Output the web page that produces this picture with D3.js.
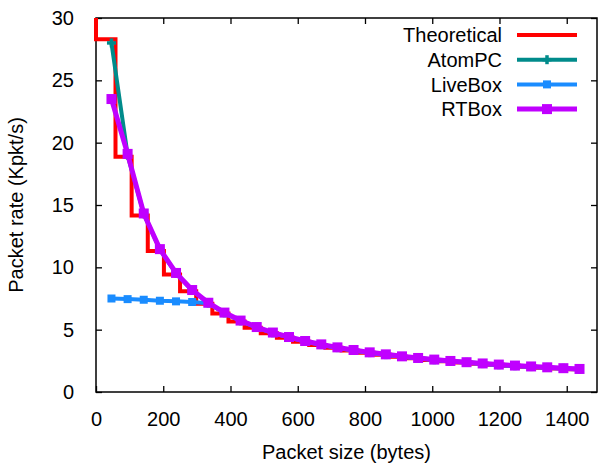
<!DOCTYPE html>
<html>
<head>
<meta charset="utf-8">
<script src="https://cdn.jsdelivr.net/npm/d3@7"></script>
<style>
  body { margin: 0; background: #fff; }
  text { font-family: "Liberation Sans", Arial, sans-serif; fill: #000; }
</style>
</head>
<body>
<svg id="chart" width="600" height="464"></svg>
<script>
// packet sizes measured (bytes)
var sizes = [46, 94, 142, 190, 238, 286, 334, 382, 430, 478, 526, 574, 622, 670, 718,
  766, 814, 862, 910, 958, 1006, 1054, 1102, 1150, 1198, 1246, 1294, 1342, 1390, 1438];

var atomPC = [28.0, 19.0, 14.3, 11.43, 9.52, 8.15, 7.13, 6.35, 5.71, 5.19, 4.75, 4.39, 4.07, 3.80, 3.56,
  3.35, 3.16, 3.00, 2.85, 2.72, 2.59, 2.48, 2.38, 2.28, 2.19, 2.11, 2.04, 1.97, 1.90, 1.84];
var liveBox = [7.5, 7.45, 7.4, 7.32, 7.27, 7.22, 7.12, 6.33, 5.70, 5.17, 4.73, 4.36, 4.04, 3.77, 3.53,
  3.32, 3.13, 2.97, 2.82, 2.68, 2.56, 2.45, 2.35, 2.25, 2.16, 2.08, 2.01, 1.94, 1.87, 1.81];
var rtBox = [23.5, 19.1, 14.32, 11.46, 9.55, 8.18, 7.16, 6.37, 5.73, 5.21, 4.77, 4.41, 4.09, 3.82, 3.58,
  3.37, 3.18, 3.02, 2.86, 2.73, 2.60, 2.49, 2.39, 2.29, 2.20, 2.12, 2.05, 1.98, 1.91, 1.85];

// theoretical step curve (step edges in bytes, rate in Kpkt/s)
var theoX = [0, 58, 106, 154, 202, 250, 298, 346, 394, 442, 490, 538, 586, 634, 682, 730,
  778, 826, 874, 922, 970, 1018, 1066, 1114, 1162, 1210, 1258, 1306, 1354, 1402, 1450];
var theoY = [30, 28.3, 18.87, 14.15, 11.32, 9.43, 8.09, 7.08, 6.29, 5.66, 5.15, 4.72, 4.35, 4.04, 3.77, 3.54,
  3.33, 3.14, 2.98, 2.83, 2.70, 2.57, 2.46, 2.36, 2.26, 2.18, 2.10, 2.02, 1.95, 1.89, 1.83];

var xTicks = [0, 200, 400, 600, 800, 1000, 1200, 1400];
var yTicks = [0, 5, 10, 15, 20, 25, 30];
var seriesNames = ["Theoretical", "AtomPC", "LiveBox", "RTBox"];
var seriesColors = ["#ff0000", "#008b8b", "#1a8cff", "#c000ff"];

var drawChart = function() {
  var svg = d3.select("#chart");
  var left = 96, right = 597, plotTop = 18, plotBottom = 392;

  var x = d3.scaleLinear().domain([0, 1490]).range([left, right]);
  var y = d3.scaleLinear().domain([0, 30]).range([plotBottom, plotTop]);
  var fmt = d3.format("d");

  // axes, gnuplot style: ticks inside, mirrored
  var tick = 6;
  svg.append("g").attr("transform", "translate(0," + plotBottom + ")")
    .call(d3.axisBottom(x).tickValues(xTicks).tickFormat(fmt).tickSizeInner(-tick).tickSizeOuter(0).tickPadding(20))
    .call(g => g.select(".domain").remove());
  svg.append("g").attr("transform", "translate(0," + plotTop + ")")
    .call(d3.axisTop(x).tickValues(xTicks).tickSizeInner(-tick).tickSizeOuter(0).tickFormat(""))
    .call(g => g.select(".domain").remove());
  svg.append("g").attr("transform", "translate(" + left + ",0)")
    .call(d3.axisLeft(y).tickValues(yTicks).tickFormat(fmt).tickSizeInner(-tick).tickSizeOuter(0).tickPadding(22))
    .call(g => g.select(".domain").remove());
  svg.append("g").attr("transform", "translate(" + right + ",0)")
    .call(d3.axisRight(y).tickValues(yTicks).tickSizeInner(-tick).tickSizeOuter(0).tickFormat(""))
    .call(g => g.select(".domain").remove());

  svg.selectAll(".tick line").attr("stroke", "#000").attr("stroke-width", 1.3);
  svg.selectAll(".tick text").attr("font-size", 20).attr("font-family", "Liberation Sans, Arial, sans-serif").attr("fill", "#000");

  svg.append("rect")
    .attr("x", left).attr("y", plotTop)
    .attr("width", right - left).attr("height", plotBottom - plotTop)
    .attr("fill", "none").attr("stroke", "#000").attr("stroke-width", 1.5);

  // axis titles
  svg.append("text").attr("x", (left + right) / 2).attr("y", 459)
    .attr("text-anchor", "middle").attr("font-size", 20).text("Packet size (bytes)");
  svg.append("text").attr("transform", "translate(23," + 205 + ") rotate(-90)")
    .attr("text-anchor", "middle").attr("font-size", 20).text("Packet rate (Kpkt/s)");

  // curves
  var line = d3.line().x(d => x(d[0])).y(d => y(d[1]));
  var stepLine = d3.line().x(d => x(d[0])).y(d => y(d[1])).curve(d3.curveStepBefore);

  var theo = theoX.map((v, i) => [v, theoY[i]]);
  svg.append("path").datum(theo).attr("d", stepLine)
    .attr("fill", "none").attr("stroke", seriesColors[0]).attr("stroke-width", 4);

  var measured = [atomPC, liveBox, rtBox].map(vals => sizes.map((s, i) => [s, vals[i]]));
  var widths = [4, 4, 5];

  function marker(g, kind, color, cx, cy) {
    if (kind == "plus") {
      g.append("line").attr("x1", cx).attr("x2", cx).attr("y1", cy - 4.5).attr("y2", cy + 4.5)
        .attr("stroke", color).attr("stroke-width", 3.5);
      g.append("line").attr("x1", cx - 4.5).attr("x2", cx + 4.5).attr("y1", cy).attr("y2", cy)
        .attr("stroke", color).attr("stroke-width", 3.5);
    } else {
      var s = kind == "big" ? 10 : 8;
      g.append("rect").attr("x", cx - s / 2).attr("y", cy - s / 2).attr("width", s).attr("height", s)
        .attr("fill", color);
    }
  }
  var kinds = ["plus", "small", "big"];

  measured.forEach(function(data, k) {
    var g = svg.append("g");
    g.append("path").datum(data).attr("d", line)
      .attr("fill", "none").attr("stroke", seriesColors[k + 1]).attr("stroke-width", widths[k])
      .attr("stroke-linejoin", "round");
    data.forEach(d => marker(g, kinds[k], seriesColors[k + 1], x(d[0]), y(d[1])));
  });

  // legend
  var legend = svg.append("g");
  seriesNames.forEach(function(name, i) {
    var ly = 35 + i * 24.7;
    legend.append("text").attr("x", 502).attr("y", ly).attr("dy", "0.36em")
      .attr("text-anchor", "end").attr("font-size", 20).text(name);
    legend.append("line").attr("x1", 517).attr("x2", 577).attr("y1", ly).attr("y2", ly)
      .attr("stroke", seriesColors[i]).attr("stroke-width", i == 3 ? 5 : 4);
    if (i > 0) marker(legend, kinds[i - 1], seriesColors[i], 547, ly);
  });
};

drawChart();
</script>
</body>
</html>
